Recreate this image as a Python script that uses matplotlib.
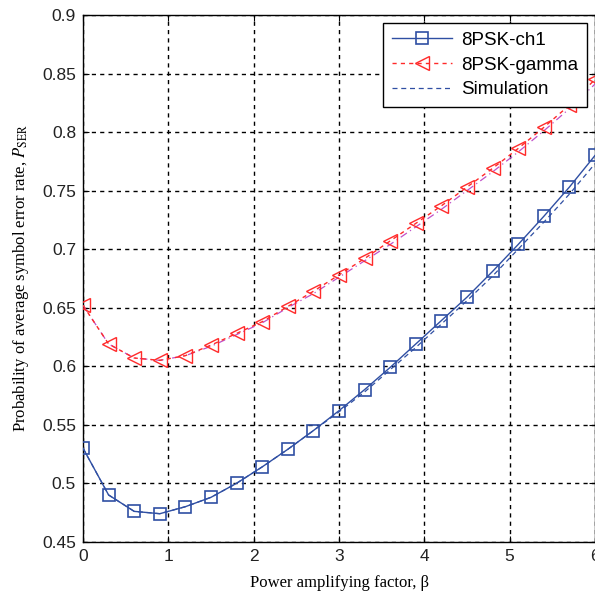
import matplotlib.pyplot as plt
import numpy as np

# power amplifying factor (beta) sample points
beta = [0.0, 0.3, 0.6, 0.9, 1.2, 1.5, 1.8, 2.1, 2.4, 2.7, 3.0,
        3.3, 3.6, 3.9, 4.2, 4.5, 4.8, 5.1, 5.4, 5.7, 6.0]

ser_ch1 = [0.530, 0.490, 0.476, 0.474, 0.480, 0.488, 0.500, 0.514, 0.529, 0.545, 0.562,
           0.580, 0.599, 0.619, 0.639, 0.659, 0.681, 0.704, 0.728, 0.753, 0.780]
ser_gamma = [0.652, 0.619, 0.607, 0.605, 0.609, 0.618, 0.628, 0.638, 0.651, 0.664, 0.678,
             0.692, 0.707, 0.722, 0.737, 0.753, 0.769, 0.786, 0.804, 0.823, 0.845]

sim_ch1 = [0.530, 0.490, 0.476, 0.474, 0.480, 0.488, 0.500, 0.514, 0.529, 0.545, 0.561,
           0.578, 0.597, 0.616, 0.636, 0.656, 0.677, 0.700, 0.723, 0.747, 0.773]
sim_gamma = [0.652, 0.619, 0.607, 0.605, 0.609, 0.617, 0.627, 0.637, 0.650, 0.662, 0.676,
             0.690, 0.704, 0.719, 0.734, 0.750, 0.766, 0.783, 0.801, 0.820, 0.841]

x_ticks = [0, 1, 2, 3, 4, 5, 6]
y_ticks = [0.45, 0.5, 0.55, 0.6, 0.65, 0.7, 0.75, 0.8, 0.85, 0.9]
y_tick_labels = ["0.45", "0.5", "0.55", "0.6", "0.65", "0.7", "0.75", "0.8", "0.85", "0.9"]

BLUE = "#2f4fa3"
RED = "#ff2a2a"
MAGENTA = "#c050c8"

plt.rcParams["mathtext.fontset"] = "stix"

fig = plt.figure(figsize=(5.95, 6.0), dpi=100)
# the original figure is cropped on the right, so the axes run to the edge
ax = fig.add_axes([0.1395, 0.097, 0.8605, 0.878])

ax.plot(beta, ser_ch1, color=BLUE, linewidth=1.0, marker="s", markersize=9,
        markerfacecolor="none", markeredgecolor=BLUE, markeredgewidth=1.2,
        label="8PSK-ch1", zorder=4)
ax.plot(beta, ser_gamma, color=RED, linewidth=1.0, linestyle=(0, (3, 3)), marker="<",
        markersize=10, markerfacecolor="none", markeredgecolor=RED,
        markeredgewidth=1.0, label="8PSK-gamma", zorder=4)
ax.plot(beta, sim_ch1, color=BLUE, linewidth=0.9, linestyle=(0, (4, 3)),
        label="Simulation", zorder=3)
ax.plot(beta, sim_gamma, color=MAGENTA, linewidth=0.9, linestyle=(0, (6, 3, 1, 3)),
        zorder=3)

ax.set_xlim(0, 6)
ax.set_ylim(0.45, 0.9)
ax.set_xticks(x_ticks)
ax.set_yticks(y_ticks)
ax.set_xticklabels([str(v) for v in x_ticks])
ax.set_yticklabels(y_tick_labels)

for lab in ax.get_xticklabels() + ax.get_yticklabels():
    lab.set_family("Liberation Sans")
    lab.set_fontsize(12.5)
    lab.set_color("#222222")

ax.tick_params(direction="in", length=4, width=0.8, top=True, right=True, pad=5)
ax.grid(True, color="black", linestyle=(0, (3, 3)), linewidth=1.0)
for sp in ax.spines.values():
    sp.set_linewidth(1.0)

ax.set_xlabel("Power amplifying factor, \u03b2", family="Liberation Serif",
              fontsize=12, labelpad=8)
ax.set_ylabel(r"Probability of average symbol error rate, $P_{\mathrm{SER}}$",
              family="Liberation Serif", fontsize=12, labelpad=8)

leg = ax.legend(loc="upper right", fancybox=False, framealpha=1.0, edgecolor="black",
                prop={"family": "Liberation Sans", "size": 13.5},
                handlelength=3.2, handletextpad=0.5, borderaxespad=0.45,
                labelspacing=0.4, borderpad=0.45)
leg.get_frame().set_linewidth(1.0)

fig.savefig("out.png", dpi=100)
